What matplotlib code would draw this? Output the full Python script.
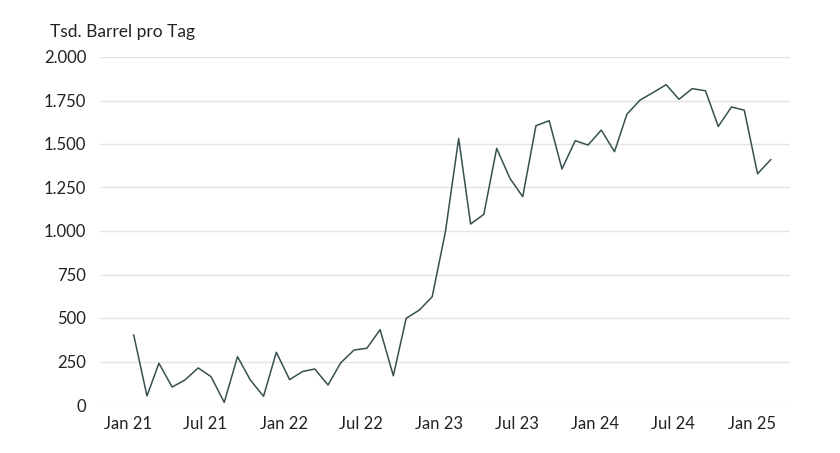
import matplotlib.pyplot as plt
import pandas as pd

# monatliche Werte, Jan 2021 bis Feb 2025 (Tsd. Barrel pro Tag)
monate = pd.date_range('2021-01-01', periods=50, freq='MS') + pd.Timedelta(days=14)
werte = [402, 52, 240, 103, 144, 213, 163, 15, 278, 144,
         50, 303, 146, 193, 207, 115, 243, 316, 326, 433,
         168, 498, 546, 622, 996, 1532, 1040, 1096, 1475, 1303,
         1197, 1605, 1634, 1356, 1519, 1494, 1580, 1456, 1671, 1753,
         1795, 1841, 1757, 1818, 1806, 1601, 1713, 1694, 1329, 1410]

tick_daten = pd.date_range('2021-01-01', '2025-01-01', freq='6MS')
tick_texte = ['Jan 21', 'Jul 21', 'Jan 22', 'Jul 22', 'Jan 23', 'Jul 23', 'Jan 24', 'Jul 24', 'Jan 25']
y_ticks = [0, 250, 500, 750, 1000, 1250, 1500, 1750, 2000]
y_texte = ['0', '250', '500', '750', '1.000', '1.250', '1.500', '1.750', '2.000']

plt.rcParams['font.family'] = ['Lato', 'DejaVu Sans']

fig = plt.figure(figsize=(8.4, 4.53), dpi=100)
ax = fig.add_axes([100/840, 48/453, 690/840, 348/453])

ax.plot(monate, werte, color='#37504f', linewidth=1.1)

ax.set_ylim(0, 2000)
ax.set_xlim(pd.Timestamp('2020-10-28'), pd.Timestamp('2025-04-01'))
ax.set_yticks(y_ticks)
ax.set_yticklabels(y_texte)
ax.set_xticks(tick_daten)
ax.set_xticklabels(tick_texte)

ax.grid(axis='y', color='#e3e3e3', linewidth=1)
ax.set_axisbelow(True)
for s in ax.spines.values():
    s.set_visible(False)
ax.tick_params(length=0, labelsize=12, colors='#222222')
ax.tick_params(axis='y', pad=10)
ax.tick_params(axis='x', pad=8)

fig.text(50/840, 1 - 32/453, 'Tsd. Barrel pro Tag', fontsize=12.5, color='#222222', va='center', ha='left')

fig.savefig('out.png', dpi=100)
